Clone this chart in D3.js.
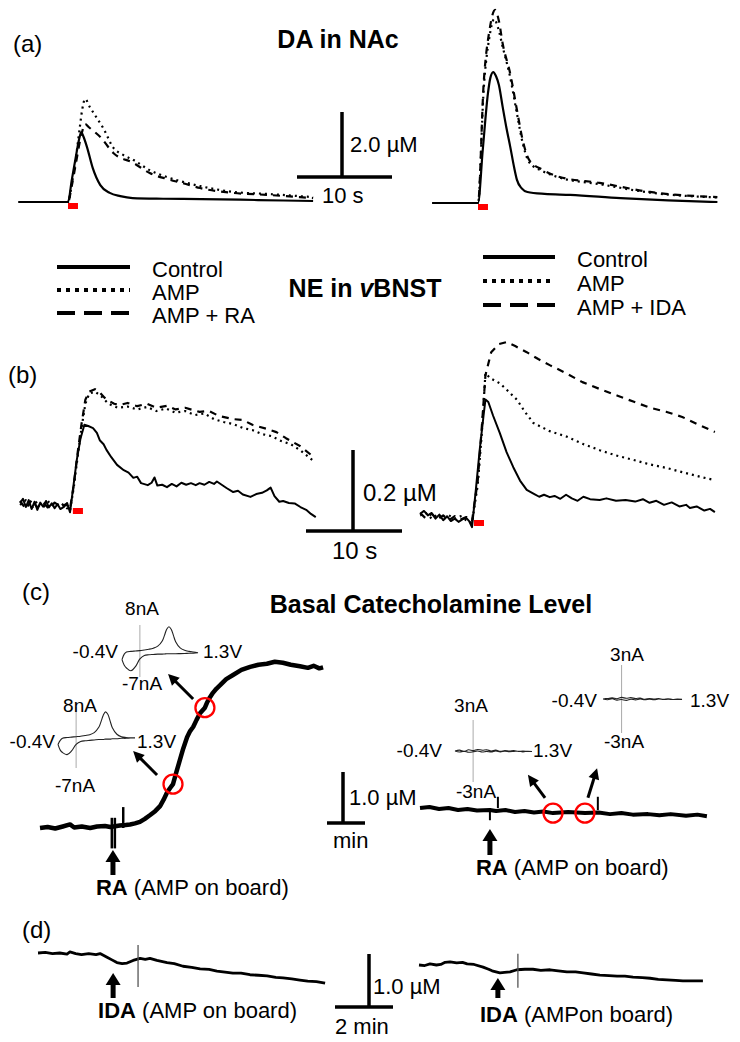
<!DOCTYPE html>
<html><head><meta charset="utf-8">
<script src="https://cdn.jsdelivr.net/npm/d3@7"></script>
<style>
body{margin:0;background:#fff}
svg{display:block}
text{font-family:"Liberation Sans",Arial,sans-serif;fill:#000}
</style></head>
<body><svg id="c" width="740" height="1042"></svg>
<script>
// ---------------- DATA ----------------
const panelLabels = ["(a)","(b)","(c)","(d)"];
const titles = ["DA in NAc","NE in ","vBNST","Basal Catecholamine Level"];
const legendLeft = ["Control","AMP","AMP + RA"];
const legendRight = ["Control","AMP","AMP + IDA"];

// (a) DA in NAc : [time s, conc µM]
const aLeftControl = [[-5.2,0],[0,0],[0.4,0.68],[0.8,1.35],[1.2,1.97],[1.4,2.15],[1.6,2.03],[2.0,1.69],[2.6,1.05],[3.4,0.52],[4.4,0.28],[5.5,0.18],[6.8,0.12],[10,0.1],[14,0.09],[20,0.06],[25.8,0.03]];
const aLeftAMP = [[-5.2,0],[0,0],[0.4,0.55],[0.8,1.3],[1.2,2.2],[1.5,2.85],[1.8,3.17],[2.3,2.92],[3.0,2.6],[3.7,2.28],[4.8,1.66],[5.8,1.45],[6.9,1.29],[8.6,0.98],[10.4,0.77],[12.1,0.62],[13.9,0.49],[17.4,0.31],[20.9,0.25],[24.4,0.18],[25.8,0.15]];
const aLeftRA = [[-5.2,0],[0,0],[0.4,0.5],[0.8,1.14],[1.4,2.06],[1.8,2.4],[2.2,2.3],[3.4,2.0],[4.8,1.5],[6.9,1.2],[8.6,0.89],[10.4,0.71],[12.1,0.58],[13.9,0.43],[17.4,0.28],[20.9,0.22],[24.4,0.15],[25.8,0.12]];
const aRightControl = [[-4.8,0],[0,0],[0.5,1.63],[1.05,3.38],[1.3,3.85],[1.6,4.03],[1.9,3.9],[2.2,3.63],[2.6,2.95],[3.0,2.3],[3.4,1.72],[3.8,1.1],[4.1,0.71],[4.6,0.45],[5.2,0.34],[7,0.28],[9.7,0.25],[15,0.15],[20,0.08],[25.2,0.03]];
const aRightAMP = [[-4.8,0],[0,0],[0.6,3.5],[1.2,5.1],[1.7,5.66],[2.1,5.4],[2.6,4.8],[3.4,3.85],[4.1,2.75],[4.7,1.85],[5.4,1.25],[6.8,0.98],[8.6,0.78],[12.8,0.58],[18.1,0.32],[25.2,0.17]];
const aRightIDA = [[-4.8,0],[0,0],[0.6,3.7],[1.2,5.3],[1.8,5.94],[2.2,5.6],[2.6,4.9],[3.4,3.97],[4.1,2.86],[4.7,1.94],[5.4,1.32],[6.8,1.02],[8.6,0.8],[12.8,0.62],[18.1,0.34],[25.2,0.18]];

// (b) NE in vBNST : [time s, conc µM]
const bLeftControl = [[-5.2,0.005],[-4.9,0.015],[-4.6,-0.005],[-4.3,0.012],[-4.0,-0.01],[-3.7,0.008],[-3.4,-0.012],[-3.1,0.006],[-2.8,-0.004],[-2.5,0.01],[-2.2,-0.006],[-1.9,0.004],[-1.6,-0.008],[-1.3,0.002],[-1.0,-0.01],[-0.6,-0.004],[-0.3,0.005],[0,-0.018],[0.3,0.037],[0.7,0.11],[1.1,0.165],[1.5,0.198],[1.9,0.195],[2.4,0.19],[2.8,0.178],[3.1,0.16],[3.5,0.15],[3.8,0.136],[4.3,0.118],[4.9,0.099],[5.6,0.086],[6.1,0.08],[6.6,0.067],[7.0,0.07],[7.4,0.054],[8.1,0.049],[8.5,0.055],[8.8,0.068],[9.1,0.048],[9.6,0.05],[10.1,0.044],[10.6,0.052],[11.1,0.046],[11.6,0.055],[12.1,0.05],[12.6,0.054],[13.1,0.049],[13.5,0.054],[14.0,0.05],[14.5,0.057],[15.0,0.052],[15.3,0.058],[15.8,0.05],[16.3,0.042],[17.0,0.032],[17.5,0.035],[18.0,0.026],[18.8,0.02],[19.4,0.027],[20.0,0.03],[20.5,0.036],[20.9,0.043],[21.3,0.022],[21.8,0.008],[22.2,0.01],[22.8,0.005],[23.4,0.004],[24.0,-0.005],[24.6,-0.012],[25.1,-0.022],[25.6,-0.03]];
const bLeftAMP = [[-5.2,0.0],[-4.6,0.012],[-4.0,-0.008],[-3.4,0.01],[-2.8,-0.006],[-2.2,0.008],[-1.6,-0.004],[-1.0,0.006],[-0.4,-0.006],[0,-0.015],[0.4,0.045],[0.8,0.12],[1.2,0.19],[1.6,0.25],[2.0,0.275],[2.6,0.28],[3.2,0.27],[4.0,0.25],[5.0,0.24],[6.0,0.243],[7.0,0.236],[8.0,0.242],[9.0,0.232],[10.0,0.238],[11.0,0.228],[12.0,0.232],[13.0,0.222],[14.0,0.226],[15.0,0.212],[16.0,0.205],[17.0,0.2],[18.0,0.19],[19.0,0.185],[20.0,0.175],[21.0,0.17],[22.0,0.158],[23.0,0.15],[24.0,0.135],[25.3,0.11]];
const bLeftRA = [[-5.2,0.01],[-4.6,-0.01],[-4.0,0.012],[-3.4,-0.006],[-2.8,0.008],[-2.2,-0.01],[-1.6,0.006],[-1.0,-0.004],[-0.4,0.002],[0,-0.01],[0.4,0.05],[0.8,0.13],[1.2,0.2],[1.6,0.26],[2.0,0.28],[2.6,0.286],[3.0,0.28],[3.6,0.265],[4.0,0.258],[4.6,0.25],[5.2,0.247],[6.0,0.252],[7.0,0.244],[8.0,0.25],[9.0,0.24],[10.1,0.245],[11.0,0.236],[12.0,0.24],[13.5,0.23],[14.5,0.232],[15.5,0.22],[17.0,0.212],[18.0,0.21],[19.0,0.198],[20.5,0.188],[21.5,0.18],[22.5,0.165],[24.0,0.145],[25.3,0.12]];
const bRightControl = [[-5.4,0.008],[-5.0,0.015],[-4.6,0.004],[-4.2,0.01],[-3.8,-0.004],[-3.4,0.006],[-3.0,-0.008],[-2.6,0.002],[-2.2,-0.01],[-1.8,-0.004],[-1.4,-0.012],[-1.0,-0.006],[-0.6,-0.002],[-0.3,-0.01],[0,-0.025],[0.4,0.067],[0.8,0.165],[1.2,0.25],[1.4,0.29],[1.7,0.284],[2.2,0.25],[2.9,0.207],[3.6,0.16],[4.3,0.123],[5.0,0.09],[5.7,0.067],[6.4,0.058],[7.0,0.05],[7.5,0.055],[8.1,0.049],[8.6,0.052],[9.2,0.045],[9.8,0.055],[10.4,0.046],[11.0,0.04],[11.6,0.05],[12.3,0.044],[13.3,0.042],[14.0,0.046],[15.0,0.04],[16.0,0.042],[17.0,0.038],[17.8,0.044],[18.5,0.035],[19.2,0.04],[20.0,0.03],[20.8,0.036],[21.6,0.026],[22.3,0.03],[22.7,0.022],[23.4,0.026],[24.2,0.016],[24.8,0.02],[25.3,0.012]];
const bRightAMP = [[-5.4,0.004],[-4.8,0.01],[-4.2,-0.004],[-3.6,0.006],[-3.0,-0.006],[-2.4,0.004],[-1.8,-0.004],[-1.2,0.002],[-0.6,-0.008],[0,-0.015],[0.6,0.08],[1.0,0.2],[1.4,0.355],[1.9,0.343],[2.9,0.33],[3.8,0.31],[4.7,0.289],[5.5,0.26],[6.4,0.232],[8.1,0.212],[9.9,0.198],[11.6,0.18],[13.3,0.165],[15.0,0.152],[16.8,0.141],[18.5,0.13],[20.3,0.121],[22.0,0.11],[23.8,0.099],[25.3,0.091]];
const bRightIDA = [[-5.4,0.01],[-4.8,-0.004],[-4.2,0.008],[-3.6,-0.006],[-3.0,0.004],[-2.4,-0.008],[-1.8,0.002],[-1.2,-0.006],[-0.6,0.0],[0,-0.01],[0.6,0.09],[1.0,0.215],[1.4,0.35],[2.0,0.407],[2.8,0.427],[3.6,0.432],[4.5,0.422],[5.7,0.407],[6.9,0.39],[8.1,0.375],[9.8,0.355],[11.5,0.333],[13.3,0.316],[15.1,0.3],[16.8,0.285],[18.5,0.27],[20.2,0.26],[21.9,0.247],[23.6,0.228],[25.3,0.21]];

// stimulation bars [start s, end s]
const stimA = [0,1.05];
const stimB = [[0.3,1.35],[0.2,1.25]];

// (c) basal level : [time min, conc µM]
const cLeft = [[0,0],[0.2,0.02],[0.4,-0.01],[0.6,0.03],[0.79,0.07],[0.9,0.01],[1.1,0.03],[1.32,0.0],[1.5,0.03],[1.71,0.04],[1.85,0.02],[2.1,0.05],[2.25,0.06],[2.37,0.07],[2.5,0.09],[2.63,0.12],[2.76,0.18],[2.89,0.25],[3.03,0.33],[3.16,0.43],[3.25,0.55],[3.34,0.69],[3.42,0.78],[3.5,0.86],[3.59,1.1],[3.68,1.33],[3.77,1.56],[3.87,1.78],[3.95,1.9],[4.03,1.98],[4.12,2.12],[4.21,2.25],[4.34,2.36],[4.39,2.45],[4.47,2.56],[4.55,2.65],[4.64,2.73],[4.74,2.8],[4.9,2.92],[5.08,3.0],[5.3,3.1],[5.53,3.16],[5.75,3.2],[5.97,3.22],[6.18,3.26],[6.39,3.24],[6.6,3.2],[6.84,3.17],[7.05,3.14],[7.2,3.18],[7.35,3.13],[7.45,3.15]];
const cRight = [[0,0],[0.25,0.02],[0.5,-0.02],[0.75,0.0],[1.0,-0.04],[1.25,-0.02],[1.5,-0.05],[1.84,-0.04],[2.0,-0.06],[2.25,-0.04],[2.5,-0.08],[2.75,-0.06],[3.0,-0.09],[3.25,-0.07],[3.5,-0.1],[3.9,-0.08],[4.34,-0.1],[4.7,-0.09],[5.0,-0.12],[5.3,-0.1],[5.6,-0.13],[6.0,-0.12],[6.3,-0.14],[6.6,-0.12],[7.0,-0.15],[7.3,-0.13],[7.55,-0.16]];
const cLeftTicks = [[1.89,0.2,-0.4],[1.97,0.2,-0.4],[2.19,0,0.41]];
const cRightTicks = [[1.84,0,-0.24],[2.05,0,0.22],[4.68,-0.04,0.22]];
const cLeftCircles = [[3.5,0.86],[4.34,2.36]];
const cRightCircles = [[3.5,-0.1],[4.34,-0.1]];
const cLeftArrows = [[[3.08,1.04],[2.45,1.51]],[[4.03,2.53],[3.37,3.02]]];
const cRightArrows = [[[3.29,0.2],[2.84,0.65]],[[4.42,0.2],[4.66,0.78]]];
const cEvents = [1.92,1.84];

// cyclic voltammograms inset: potential V, current nA
const cvPot = [-0.4,-0.35,-0.3,-0.2,-0.1,0,0.1,0.2,0.3,0.4,0.5,0.55,0.6,0.65,0.7,0.75,0.8,0.9,1.0,1.1,1.2,1.3];
const cv1Fwd = [-2.0,-0.4,0.2,0.4,0.5,0.6,0.8,1.0,1.3,1.9,3.4,5.0,6.8,7.5,6.8,5.0,3.2,1.4,0.7,0.4,0.2,0];
const cv1Rev = [-2.0,-3.6,-4.4,-5.2,-4.0,-1.8,-0.8,-0.6,-0.5,-0.4,-0.4,-0.35,-0.3,-0.3,-0.3,-0.3,-0.3,-0.25,-0.2,-0.15,-0.1,0];
const cv2Fwd = [-1.2,-0.2,0.3,0.5,0.6,0.7,0.8,1.0,1.2,1.7,3.0,4.4,6.0,6.8,6.2,4.6,2.9,1.3,0.7,0.5,0.4,0.4];
const cv2Rev = [-1.2,-2.6,-3.2,-3.7,-2.8,-1.2,-0.5,-0.3,-0.2,-0.1,0,0,0,0.1,0.1,0.1,0.2,0.2,0.3,0.3,0.4,0.4];
const flatPot = [-0.4,-0.3,-0.2,-0.1,0,0.1,0.2,0.3,0.4,0.5,0.6,0.7,0.8,0.9,1.0,1.1,1.2,1.3];
const flat1Fwd = [0,0.08,-0.05,0.12,0.04,0.15,0.08,0.12,0.0,0.08,-0.04,0.05,0.0,0.04,-0.04,0.0,-0.04,-0.05];
const flat1Rev = [0,-0.1,-0.02,-0.12,-0.08,0.0,-0.1,-0.04,-0.1,0.0,-0.08,-0.02,-0.06,-0.04,-0.02,-0.08,-0.03,-0.05];
const flat2Fwd = [0,0.05,0.1,0.02,0.14,0.06,0.12,0.04,0.08,-0.02,0.05,0.0,0.03,-0.03,0.02,-0.04,0.0,-0.03];
const flat2Rev = [0,-0.06,0.02,-0.1,-0.04,-0.12,-0.02,-0.08,0.0,-0.06,-0.02,-0.06,0.0,-0.05,-0.02,-0.04,-0.05,-0.03];
const potLabels = ["-0.4V","1.3V"];
const curLabelsBig = ["8nA","-7nA"];
const curLabelsSmall = ["3nA","-3nA"];

// (d) : [time min, conc µM]
const dLeft = [[0,0],[0.25,0.01],[0.5,-0.01],[0.75,0.0],[1.0,-0.02],[1.1,0.02],[1.3,-0.01],[1.5,-0.03],[1.75,-0.01],[2.0,-0.03],[2.14,-0.01],[2.38,-0.08],[2.55,-0.13],[2.72,-0.18],[2.9,-0.2],[3.07,-0.19],[3.28,-0.14],[3.52,-0.1],[3.7,-0.12],[3.86,-0.1],[4.1,-0.14],[4.45,-0.18],[4.7,-0.2],[5.0,-0.25],[5.3,-0.27],[5.59,-0.3],[5.9,-0.31],[6.17,-0.34],[6.45,-0.36],[6.72,-0.38],[7.0,-0.38],[7.31,-0.41],[7.6,-0.42],[7.9,-0.43],[8.2,-0.46],[8.45,-0.47],[8.75,-0.49],[9.03,-0.51],[9.3,-0.53],[9.6,-0.54],[9.9,-0.57]];
const dRight = [[0,0],[0.2,-0.01],[0.38,0.02],[0.6,0.0],[0.75,0.01],[0.9,0.05],[1.07,0.06],[1.3,0.04],[1.5,0.05],[1.66,0.02],[1.9,0.01],[2.21,-0.04],[2.4,-0.08],[2.52,-0.11],[2.79,-0.15],[2.95,-0.14],[3.14,-0.13],[3.38,-0.09],[3.65,-0.08],[3.93,-0.08],[4.2,-0.1],[4.52,-0.09],[4.8,-0.11],[5.1,-0.13],[5.4,-0.13],[5.66,-0.15],[5.95,-0.17],[6.24,-0.19],[6.55,-0.2],[6.83,-0.21],[7.1,-0.21],[7.38,-0.23],[7.7,-0.24],[7.97,-0.25],[8.25,-0.27],[8.55,-0.28],[8.85,-0.29],[9.1,-0.3],[9.45,-0.3],[9.79,-0.3]];
const dSpikes = [[3.45,0.15,-0.64],[3.41,0.21,-0.43]];
const dEvents = [2.59,2.72];

// scale bars
const sbTime = [10,10,1,2];
const sbConc = [2.0,0.2,1.0,1.0];
const sbTimeLabels = ["10 s","10 s","min","2 min"];
const sbConcLabels = ["2.0 µM","0.2 µM","1.0 µM","1.0 µM"];

// ---------------- DRAW ----------------
const svg = d3.select("#c");
svg.append("rect").attr("width",740).attr("height",1042).attr("fill","#fff");
const g = svg.append("g");

const lin = (dom,rng)=>d3.scaleLinear().domain(dom).range(rng);
const xA1=lin([0,10],[68,163]),  yA1=lin([0,2],[202,137]);
const xA2=lin([0,10],[478,573]), yA2=lin([0,2],[203,138]);
const xB1=lin([0,10],[70,166]),  yB1=lin([0,0.2],[505,424]);
const xB2=lin([0,10],[472,568]), yB2=lin([0,0.2],[517,436]);
const xC1=lin([0,1],[40,78]),    yC1=lin([0,1],[828,777]);
const xC2=lin([0,1],[420,458]),  yC2=lin([0,1],[808,757]);
const xD1=lin([0,2],[38,96]),    yD1=lin([0,1],[953,900]);
const xD2=lin([0,2],[419,477]),  yD2=lin([0,1],[965,912]);

const st = {
  control:{w:2.2,dash:null},
  amp:{w:2.2,dash:"2,4"},
  drug:{w:2.2,dash:"7,6"}
};
function trace(data,x,y,s,curve){
  g.append("path").datum(data)
   .attr("d",d3.line().x(d=>x(d[0])).y(d=>y(d[1])).curve(curve||d3.curveLinear))
   .attr("fill","none").attr("stroke",s.color||"#000").attr("stroke-width",s.w)
   .attr("stroke-dasharray",s.dash).attr("stroke-linejoin","round");
}
function txt(x,y,t,size,opts={}){
  const e=g.append("text").attr("x",x).attr("y",y).attr("font-size",size).text(t);
  if(opts.bold) e.attr("font-weight","bold");
  if(opts.anchor) e.attr("text-anchor",opts.anchor);
  return e;
}
function arrow(x1,y1,x2,y2,w,hl,hw){
  const dx=x2-x1,dy=y2-y1,L=Math.hypot(dx,dy),ux=dx/L,uy=dy/L;
  const bx=x2-ux*hl,by=y2-uy*hl;
  g.append("line").attr("x1",x1).attr("y1",y1).attr("x2",bx+ux).attr("y2",by+uy)
   .attr("stroke","#000").attr("stroke-width",w);
  g.append("path").attr("d",`M${x2},${y2}L${bx-uy*hw/2},${by+ux*hw/2}L${bx+uy*hw/2},${by-ux*hw/2}Z`).attr("fill","#000");
}

// panel labels & titles
[[13,52],[8,383],[22,600],[22,938]].forEach((p,i)=>txt(p[0],p[1],panelLabels[i],24));
txt(338,48,titles[0],25,{bold:true,anchor:"middle"});
{
  const t=g.append("text").attr("x",365).attr("y",297).attr("font-size",25).attr("font-weight","bold").attr("text-anchor","middle");
  t.append("tspan").text(titles[1]);
  t.append("tspan").attr("font-style","italic").text(titles[2][0]);
  t.append("tspan").text(titles[2].slice(1));
}
txt(431,613,titles[3],25,{bold:true,anchor:"middle"});

// (a)
const curveA = d3.curveMonotoneX;
trace(aLeftRA,xA1,yA1,st.drug,curveA);
trace(aLeftAMP,xA1,yA1,st.amp,curveA);
trace(aLeftControl,xA1,yA1,st.control,curveA);
trace(aRightIDA,xA2,yA2,st.drug,curveA);
trace(aRightAMP,xA2,yA2,st.amp,curveA);
trace(aRightControl,xA2,yA2,st.control,curveA);
[[xA1,yA1],[xA2,yA2]].forEach(([x,y])=>{
  g.append("rect").attr("x",x(stimA[0])).attr("y",y(0)+1).attr("width",x(stimA[1])-x(stimA[0])).attr("height",6).attr("fill","#f00");
});

// legends
function legend(labels,lx0,lx1,ly,tx,ty){
  const ls=[{w:4,dash:null},{w:4,dash:"4,5"},{w:4,dash:"18,9"}];
  labels.forEach((l,i)=>{
    g.append("line").attr("x1",lx0).attr("x2",lx1).attr("y1",ly[i]).attr("y2",ly[i])
     .attr("stroke","#000").attr("stroke-width",ls[i].w).attr("stroke-dasharray",ls[i].dash);
    txt(tx,ty[i],l,22);
  });
}
legend(legendLeft,57,130,[267,290,313],152,[277,300,323]);
legend(legendRight,483,555,[257,281,305],577,[267,291,315]);

// (b)
trace(bLeftRA,xB1,yB1,st.drug);
trace(bLeftAMP,xB1,yB1,st.amp);
trace(bLeftControl,xB1,yB1,{w:2});
trace(bRightIDA,xB2,yB2,st.drug);
trace(bRightAMP,xB2,yB2,st.amp);
trace(bRightControl,xB2,yB2,{w:2});
[[xB1,yB1],[xB2,yB2]].forEach(([x,y],i)=>{
  g.append("rect").attr("x",x(stimB[i][0])).attr("y",y(0)+3).attr("width",x(stimB[i][1])-x(stimB[i][0])).attr("height",6).attr("fill","#f00");
});

// scale bars
function scaleBar(i,x,y,ox,oy,vx,ty,tx){
  const hl=x(sbTime[i])-x(0), vl=y(0)-y(sbConc[i]);
  g.append("line").attr("x1",ox).attr("x2",ox+hl).attr("y1",oy).attr("y2",oy).attr("stroke","#000").attr("stroke-width",3.5);
  g.append("line").attr("x1",vx).attr("x2",vx).attr("y1",oy).attr("y2",oy-vl).attr("stroke","#000").attr("stroke-width",3.5);
  txt(ty[0],ty[1],sbConcLabels[i],ty[2]);
  txt(tx[0],tx[1],sbTimeLabels[i],tx[2]);
}
scaleBar(0,xA1,yA1,297,177,342,[350,152,22],[322,203,22]);
scaleBar(1,xB1,yB1,306,531,353,[363,501,24],[332,559,24]);
scaleBar(2,xC1,yC1,327,823,343,[349,805,22],[333,848,22]);
scaleBar(3,xD1,yD1,335,1007,369,[373,994,22],[335,1034,22]);

// (c) traces
trace(cLeft,xC1,yC1,{w:4.5});
trace(cRight,xC2,yC2,{w:4});
cLeftTicks.forEach(d=>g.append("line").attr("x1",xC1(d[0])).attr("x2",xC1(d[0])).attr("y1",yC1(d[1])).attr("y2",yC1(d[2])).attr("stroke","#000").attr("stroke-width",2.5));
cRightTicks.forEach(d=>g.append("line").attr("x1",xC2(d[0])).attr("x2",xC2(d[0])).attr("y1",yC2(d[1])).attr("y2",yC2(d[2])).attr("stroke","#000").attr("stroke-width",2));
cLeftCircles.forEach(d=>g.append("circle").attr("cx",xC1(d[0])).attr("cy",yC1(d[1])).attr("r",9.5).attr("fill","none").attr("stroke","#f00").attr("stroke-width",2.3));
cRightCircles.forEach(d=>g.append("circle").attr("cx",xC2(d[0])).attr("cy",yC2(d[1])).attr("r",9.5).attr("fill","none").attr("stroke","#f00").attr("stroke-width",2.3));
cLeftArrows.forEach(a=>arrow(xC1(a[0][0]),yC1(a[0][1]),xC1(a[1][0]),yC1(a[1][1]),3,11,11));
cRightArrows.forEach(a=>arrow(xC2(a[0][0]),yC2(a[0][1]),xC2(a[1][0]),yC2(a[1][1]),3,11,11));

// insets
const insets = [
  {pot:cvPot,fwd:cv1Fwd,rev:cv1Rev,x:[122,198],dom:[-7,8],y:[677,625],lab:curLabelsBig,top:[142,615],bot:[142,690],left:[118,658],right:[203,658]},
  {pot:cvPot,fwd:cv2Fwd,rev:cv2Rev,x:[58,135],dom:[-7,8],y:[768,707],lab:curLabelsBig,top:[80,712],bot:[75,792],left:[55,748],right:[137,748]},
  {pot:flatPot,fwd:flat1Fwd,rev:flat1Rev,x:[455,532],dom:[-3,3],y:[782,720],lab:curLabelsSmall,top:[471,712],bot:[476,798],left:[442,757],right:[533,757]},
  {pot:flatPot,fwd:flat2Fwd,rev:flat2Rev,x:[603,682],dom:[-3,3],y:[733,665],lab:curLabelsSmall,top:[627,661],bot:[624,748],left:[597,707],right:[690,707]}
];
insets.forEach(s=>{
  const xv=lin([s.pot[0],s.pot[s.pot.length-1]],s.x), yi=lin(s.dom,s.y);
  g.append("line").attr("x1",xv(0)).attr("x2",xv(0)).attr("y1",yi(s.dom[0])).attr("y2",yi(s.dom[1])).attr("stroke","#aaa").attr("stroke-width",1);
  const loop = s.pot.map((v,i)=>[v,s.fwd[i]]).concat(s.pot.map((v,i)=>[v,s.rev[i]]).reverse());
  g.append("path").datum(loop).attr("d",d3.line().x(d=>xv(d[0])).y(d=>yi(d[1])).curve(d3.curveCatmullRom))
   .attr("fill","none").attr("stroke","#222").attr("stroke-width",1.1);
  txt(s.top[0],s.top[1],s.lab[0],19,{anchor:"middle"});
  txt(s.bot[0],s.bot[1],s.lab[1],19,{anchor:"middle"});
  txt(s.left[0],s.left[1],potLabels[0],19,{anchor:"end"});
  txt(s.right[0],s.right[1],potLabels[1],19);
});

// event arrows & labels
function eventLabel(x,tipY,baseY,lx,ly,bold,rest){
  arrow(x,baseY,x,tipY,5,12,15);
  const t=g.append("text").attr("x",lx).attr("y",ly).attr("font-size",22);
  t.append("tspan").attr("font-weight","bold").text(bold);
  t.append("tspan").text(rest);
}
eventLabel(xC1(cEvents[0]),850,875,xC1(cEvents[0])-17,895,"RA"," (AMP on board)");
eventLabel(xC2(cEvents[1]),829,855,xC2(cEvents[1])-14,875,"RA"," (AMP on board)");

// (d)
trace(dLeft,xD1,yD1,{w:2.8});
trace(dRight,xD2,yD2,{w:2.8});
g.append("line").attr("x1",xD1(dSpikes[0][0])).attr("x2",xD1(dSpikes[0][0])).attr("y1",yD1(dSpikes[0][1])).attr("y2",yD1(dSpikes[0][2])).attr("stroke","#555").attr("stroke-width",1.3);
g.append("line").attr("x1",xD2(dSpikes[1][0])).attr("x2",xD2(dSpikes[1][0])).attr("y1",yD2(dSpikes[1][1])).attr("y2",yD2(dSpikes[1][2])).attr("stroke","#555").attr("stroke-width",1.3);
eventLabel(xD1(dEvents[0]),973,998,xD1(dEvents[0])-15,1018,"IDA"," (AMP on board)");
eventLabel(xD2(dEvents[1]),978,998,xD2(dEvents[1])-18,1022,"IDA"," (AMPon board)");
</script></body></html>
